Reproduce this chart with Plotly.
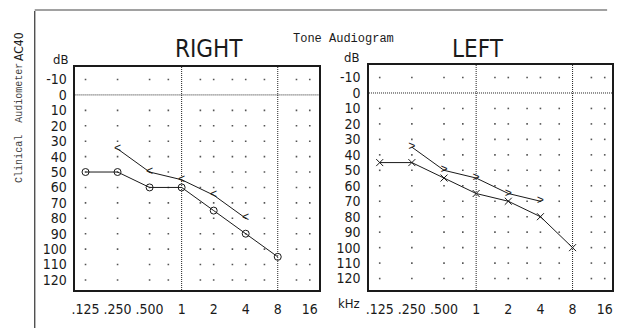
import math
import plotly.graph_objects as go

# ---------------- data ----------------
FREQ_TICKS = [0.125, 0.25, 0.5, 1, 2, 4, 8, 16]
FREQ_TICK_TEXT = [".125", ".250", ".500", "1", "2", "4", "8", "16"]
DB_TICKS = [-10, 0, 10, 20, 30, 40, 50, 60, 70, 80, 90, 100, 110, 120]
DB_TICK_TEXT = [str(v) for v in DB_TICKS]

# grid dots (audiometer chart grid)
DOT_FREQS = [0.125, 0.25, 0.5, 0.75, 1.5, 2, 3, 4, 6, 12, 16]
DOT_LEVELS = [-10, 10, 20, 30, 40, 50, 60, 70, 80, 90, 100, 110, 120]
DOTTED_FREQS = [1, 8]
DOTTED_LEVELS = [0]

# right ear
R_AIR_F = [0.125, 0.25, 0.5, 1, 2, 4, 8]
R_AIR_DB = [50, 50, 60, 60, 75, 90, 105]
R_BONE_F = [0.25, 0.5, 1, 2, 4]
R_BONE_DB = [35, 50, 55, 65, 80]

# left ear
L_AIR_F = [0.125, 0.25, 0.5, 1, 2, 4, 8]
L_AIR_DB = [45, 45, 55, 65, 70, 80, 100]
L_BONE_F = [0.25, 0.5, 1, 2, 4]
L_BONE_DB = [35, 50, 55, 65, 70]

# ---------------- style ----------------
W, H = 623, 328
INK = "#1a1a1a"
NARROW = "Liberation Sans Narrow, DejaVu Sans Condensed, Liberation Mono, monospace"
MONO = "Liberation Mono, DejaVu Sans Mono, monospace"

def px(x):
    return x / W

def py(y):
    return 1 - y / H

fig = go.Figure()

panels = [
    dict(xa="x", ya="y", air_f=R_AIR_F, air_db=R_AIR_DB, bone_f=R_BONE_F, bone_db=R_BONE_DB,
         air_sym="circle-open", bone_txt="<"),
    dict(xa="x2", ya="y2", air_f=L_AIR_F, air_db=L_AIR_DB, bone_f=L_BONE_F, bone_db=L_BONE_DB,
         air_sym="x-thin-open", bone_txt=">"),
]

for p in panels:
    gx = [f for f in DOT_FREQS for _ in DOT_LEVELS]
    gy = [l for _ in DOT_FREQS for l in DOT_LEVELS]
    fig.add_trace(go.Scatter(x=gx, y=gy, mode="markers", xaxis=p["xa"], yaxis=p["ya"],
                             marker=dict(size=1.6, color="#555", symbol="square"),
                             hoverinfo="skip"))
    fig.add_trace(go.Scatter(x=p["air_f"], y=p["air_db"], mode="lines+markers",
                             xaxis=p["xa"], yaxis=p["ya"],
                             line=dict(color=INK, width=1),
                             marker=dict(symbol=p["air_sym"], size=7,
                                         color=INK, line=dict(width=1, color=INK))))
    fig.add_trace(go.Scatter(x=p["bone_f"], y=p["bone_db"], mode="lines+text",
                             xaxis=p["xa"], yaxis=p["ya"],
                             text=[p["bone_txt"]] * len(p["bone_f"]),
                             textposition="middle center",
                             textfont=dict(family=MONO, size=12, color=INK),
                             line=dict(color=INK, width=1)))

# dotted reference lines
for xa, ya in [("x", "y"), ("x2", "y2")]:
    for f in DOTTED_FREQS:
        fig.add_shape(type="line", xref=xa, yref=ya + " domain", x0=f, x1=f, y0=0, y1=1,
                      line=dict(color="#222", width=1, dash="1px,1px"))
    for l in DOTTED_LEVELS:
        fig.add_shape(type="line", xref=xa + " domain", yref=ya, x0=0, x1=1, y0=l, y1=l,
                      line=dict(color="#222", width=1, dash="1px,1px"))

# outer border (top and left)
fig.add_shape(type="line", xref="paper", yref="paper", x0=px(31), x1=px(31), y0=py(11), y1=py(328),
              line=dict(color="#333", width=1.2))
fig.add_shape(type="line", xref="paper", yref="paper", x0=px(31), x1=px(608), y0=py(10), y1=py(10),
              line=dict(color="#444", width=1.2))

xcommon = dict(type="log", tickmode="array", tickvals=FREQ_TICKS, ticktext=FREQ_TICK_TEXT,
               showgrid=False, zeroline=False, showline=True, mirror=True,
               linecolor=INK, linewidth=1.5, ticks="", ticklabelstandoff=5,
               tickfont=dict(family=NARROW, size=14, color=INK))
ycommon = dict(tickmode="array", tickvals=DB_TICKS, ticktext=DB_TICK_TEXT,
               showgrid=False, zeroline=False, showline=True, mirror=True,
               linecolor=INK, linewidth=1.5, ticks="", ticklabelstandoff=4,
               tickfont=dict(family=NARROW, size=14, color=INK))

fig.update_layout(
    width=W, height=H, margin=dict(l=0, r=0, t=0, b=0),
    paper_bgcolor="white", plot_bgcolor="white", showlegend=False,
    xaxis=dict(xcommon, domain=[px(72), px(318)], range=[-0.998, 1.295], anchor="y"),
    yaxis=dict(ycommon, domain=[py(290), py(67)], range=[126.5, -18.1], anchor="x"),
    xaxis2=dict(xcommon, domain=[px(368), px(613)], range=[-1.003, 1.273], anchor="y2"),
    yaxis2=dict(ycommon, domain=[py(290), py(65)], range=[127.4, -18.1], anchor="x2"),
)

ann = [
    dict(text="RIGHT", x=px(207), y=py(49), font=dict(family=NARROW, size=24, color=INK)),
    dict(text="LEFT", x=px(478), y=py(49), font=dict(family=NARROW, size=24, color=INK)),
    dict(text="Tone Audiogram", x=px(342), y=py(39), font=dict(family=MONO, size=12, color=INK)),
    dict(text="dB", x=px(57), y=py(60), font=dict(family=NARROW, size=13, color=INK)),
    dict(text="dB", x=px(350), y=py(57), font=dict(family=NARROW, size=13, color=INK)),
    dict(text="kHz", x=px(348), y=py(303), font=dict(family=NARROW, size=13, color=INK)),
    dict(text="Clinical  Audiometer", x=px(15), y=py(123), textangle=-90,
         font=dict(family=MONO, size=10, color="#444")),
    dict(text="AC40", x=px(15), y=py(46), textangle=-90,
         font=dict(family=NARROW, size=12, color=INK)),
]
for a in ann:
    fig.add_annotation(xref="paper", yref="paper", showarrow=False,
                       xanchor="center", yanchor="middle", **a)

fig.write_html("out.html")
